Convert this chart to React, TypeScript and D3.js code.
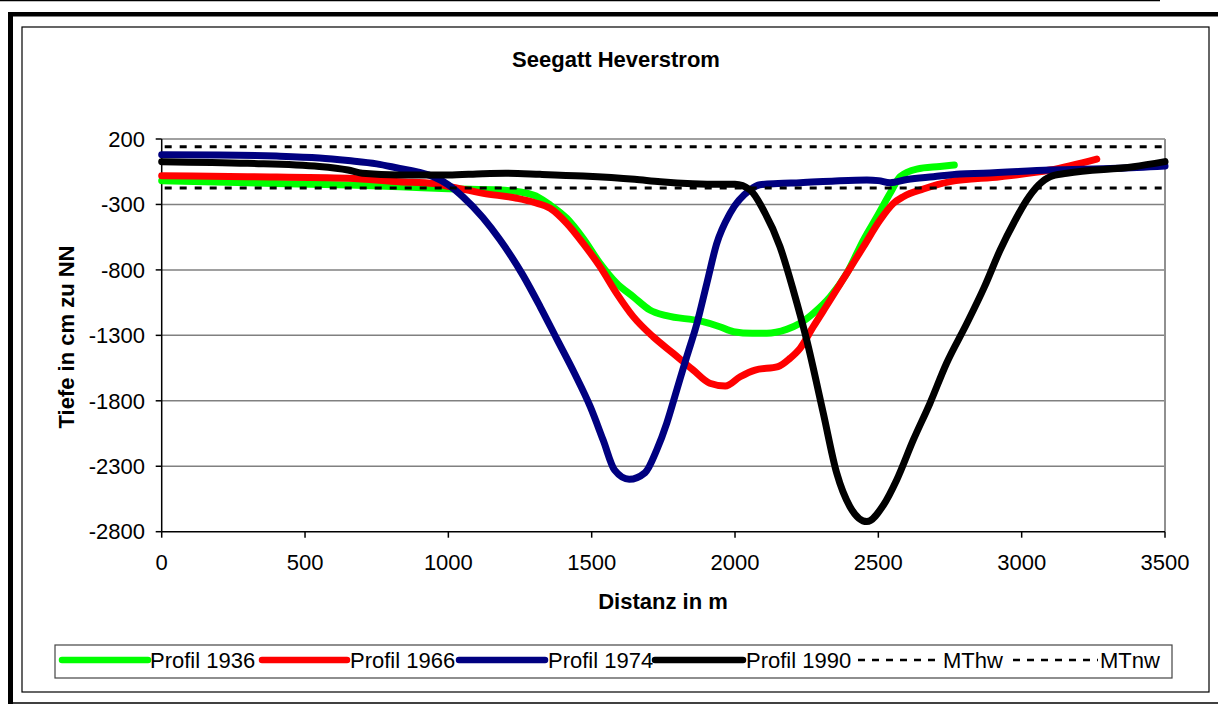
import React from "react";
import * as d3 from "d3";

type P = [number, number];

const xTicks = [0, 500, 1000, 1500, 2000, 2500, 3000, 3500];
const yTicks = [200, -300, -800, -1300, -1800, -2300, -2800];

const profil1936: P[] = [
  [0, -119], [300, -135], [657, -152], [830, -164], [1000, -180], [1180, -190],
  [1297, -228], [1355, -304], [1413, -406], [1470, -559], [1529, -750], [1587, -902],
  [1645, -1005], [1703, -1106], [1761, -1150], [1878, -1190], [1947, -1234],
  [1995, -1272], [2060, -1284], [2111, -1284], [2180, -1254], [2227, -1208],
  [2273, -1132], [2332, -1005], [2390, -826], [2448, -572], [2495, -394],
  [2541, -215], [2576, -88], [2634, -30], [2715, -10], [2765, 1],
];

const profil1966: P[] = [
  [0, -80], [300, -88], [650, -100], [830, -126], [950, -140], [1006, -164],
  [1122, -215], [1239, -253], [1300, -285], [1355, -329], [1413, -444], [1470, -597],
  [1529, -775], [1587, -979], [1645, -1157], [1714, -1310], [1784, -1437],
  [1854, -1565], [1912, -1666], [1966, -1687], [2018, -1616], [2070, -1565],
  [2150, -1539], [2192, -1475], [2227, -1399], [2273, -1234], [2332, -1030],
  [2390, -826], [2448, -623], [2506, -419], [2553, -291], [2587, -241],
  [2657, -182], [2750, -126], [2925, -88], [3099, -37], [3262, 47],
];

const profil1974: P[] = [
  [0, 80], [200, 78], [400, 70], [550, 55], [650, 35], [750, 10], [830, -25],
  [900, -55], [950, -90], [1000, -150], [1050, -240], [1120, -400], [1180, -570],
  [1260, -840], [1320, -1080], [1380, -1335], [1440, -1590], [1495, -1845],
  [1540, -2100], [1580, -2330], [1631, -2400], [1686, -2350], [1727, -2175],
  [1762, -1970], [1797, -1715], [1832, -1460], [1867, -1210], [1902, -900],
  [1936, -600], [1983, -366], [2052, -190], [2087, -150], [2150, -140],
  [2227, -134], [2350, -120], [2460, -113], [2500, -118], [2541, -134],
  [2600, -110], [2692, -88], [2785, -67], [2866, -62], [3099, -37], [3332, -24],
  [3500, -6],
];

const profil1990: P[] = [
  [0, 27], [300, 14], [550, -10], [650, -37], [700, -62], [830, -75], [1000, -75],
  [1120, -65], [1200, -62], [1320, -70], [1470, -83], [1650, -108], [1740, -126],
  [1950, -146], [2000, -146], [2053, -190], [2099, -342], [2157, -623],
  [2203, -953], [2250, -1335], [2308, -1895], [2355, -2354], [2401, -2609],
  [2460, -2723], [2518, -2596], [2564, -2405], [2622, -2099], [2680, -1819],
  [2738, -1513], [2809, -1208], [2870, -930], [2925, -648], [2975, -430],
  [3018, -266], [3060, -150], [3099, -88], [3157, -62], [3390, -12], [3500, 27],
];

const mthw = 140;
const mtnw = -175;

const seriesNames = ["Profil 1936", "Profil 1966", "Profil 1974", "Profil 1990", "MThw", "MTnw"];
const seriesColors = ["#00ff00", "#ff0000", "#000080", "#000000", "#000000", "#000000"];

const FONT = "'Liberation Sans', Arial, sans-serif";
const FS = 22;

export default function App() {
  const W = 1218;
  const H = 704;
  const x = d3.scaleLinear().domain([0, 3500]).range([161.7, 1165]);
  const y = d3.scaleLinear().domain([-2800, 200]).range([531.7, 139]);
  const line = d3
    .line<P>()
    .x((d) => x(d[0]))
    .y((d) => y(d[1]))
    .curve(d3.curveMonotoneX);

  const data = [profil1936, profil1966, profil1974, profil1990];

  const legendItems = [
    { sx: 62, ex: 148, tx: 150 },
    { sx: 262, ex: 347, tx: 350 },
    { sx: 459, ex: 545, tx: 548 },
    { sx: 655, ex: 743, tx: 746 },
    { sx: 858, ex: 940, tx: 943 },
    { sx: 1013, ex: 1098, tx: 1100 },
  ];
  const ly = 660;

  return (
    <svg
      width={W}
      height={H}
      style={{ position: "absolute", left: 0, top: 0, background: "#fff" }}
      fontFamily={FONT}
    >
      {/* outer decorations */}
      <line x1={0} y1={0.5} x2={1160} y2={0.5} stroke="#000" strokeWidth={1.5} />
      <rect x={8} y={12} width={W - 8} height={4.5} fill="#000" />
      <rect x={8} y={12} width={5} height={H - 12} fill="#000" />
      <line x1={13} y1={703} x2={W} y2={703} stroke="#000" strokeWidth={1.5} />
      {/* chart frame */}
      <rect x={22} y={27} width={1187} height={665} fill="#fff" stroke="#000" strokeWidth={1.2} />

      {/* title */}
      <text x={616} y={67} textAnchor="middle" fontSize={FS} fontWeight="bold">
        Seegatt Heverstrom
      </text>

      {/* gridlines */}
      {yTicks.filter((t) => t !== -2800).map((t) => (
        <line key={t} x1={x(0)} x2={x(3500)} y1={y(t)} y2={y(t)} stroke="#808080" strokeWidth={1.5} />
      ))}
      <line x1={x(3500)} x2={x(3500)} y1={y(200)} y2={y(-2800)} stroke="#909090" strokeWidth={2} />

      {/* axes */}
      <line x1={x(0)} x2={x(0)} y1={y(200)} y2={y(-2800)} stroke="#000" strokeWidth={1.5} />
      <line x1={x(0)} x2={x(3500)} y1={y(-2800)} y2={y(-2800)} stroke="#000" strokeWidth={1.5} />
      {yTicks.map((t) => (
        <g key={t}>
          <line x1={x(0) - 6} x2={x(0)} y1={y(t)} y2={y(t)} stroke="#000" strokeWidth={1.5} />
          <text x={145} y={y(t)} dy="0.35em" textAnchor="end" fontSize={FS}>
            {t}
          </text>
        </g>
      ))}
      {xTicks.map((t) => (
        <g key={t}>
          <line x1={x(t)} x2={x(t)} y1={y(-2800)} y2={y(-2800) + 6} stroke="#000" strokeWidth={1.5} />
          <text x={x(t)} y={570} textAnchor="middle" fontSize={FS}>
            {t}
          </text>
        </g>
      ))}

      {/* axis titles */}
      <text x={663} y={609} textAnchor="middle" fontSize={FS} fontWeight="bold">
        Distanz in m
      </text>
      <text
        transform={`translate(74,337) rotate(-90)`}
        textAnchor="middle"
        fontSize={FS}
        fontWeight="bold"
      >
        Tiefe in cm zu NN
      </text>

      {/* series */}
      {data.map((d, i) => (
        <path
          key={i}
          d={line(d) || ""}
          fill="none"
          stroke={seriesColors[i]}
          strokeWidth={7}
          strokeLinecap="round"
          strokeLinejoin="round"
        />
      ))}
      {[mthw, mtnw].map((v, i) => (
        <line
          key={i}
          x1={x(0)}
          x2={x(3500)}
          y1={y(v)}
          y2={y(v)}
          stroke="#000"
          strokeWidth={3}
          strokeDasharray="7,8"
          strokeDashoffset={-3}
        />
      ))}

      {/* legend */}
      <rect x={55} y={645} width={1117} height={33} fill="#fff" stroke="#444" strokeWidth={1.2} />
      {legendItems.map((it, i) => (
        <g key={i}>
          <line
            x1={it.sx}
            x2={it.ex}
            y1={ly}
            y2={ly}
            stroke={seriesColors[i]}
            strokeWidth={i < 4 ? 6.5 : 2.5}
            strokeLinecap={i < 4 ? "round" : "butt"}
            strokeDasharray={i < 4 ? undefined : "7,7"}
          />
          <text x={it.tx} y={ly} dy="0.36em" fontSize={FS}>
            {seriesNames[i]}
          </text>
        </g>
      ))}
    </svg>
  );
}
